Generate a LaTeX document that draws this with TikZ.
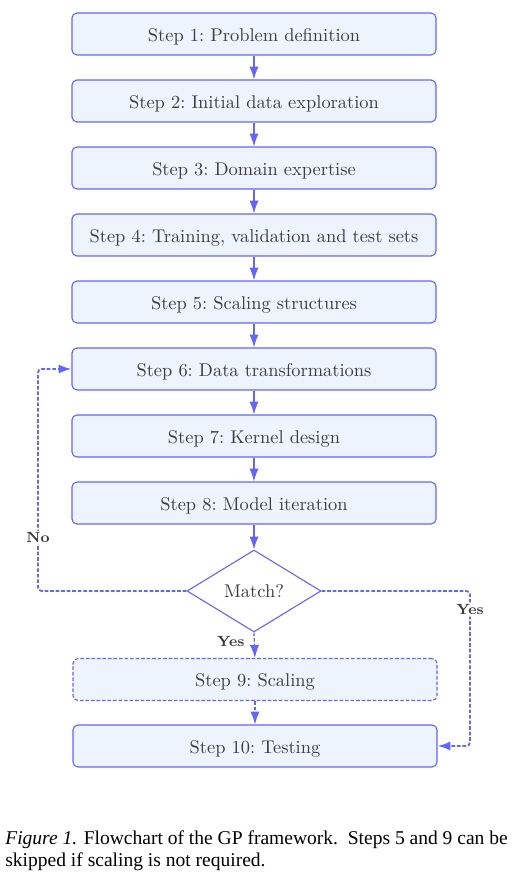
\documentclass[tikz,border=0pt]{standalone}
\usepackage{fontspec}
\newfontfamily\capfont{Liberation Serif}
\usetikzlibrary{shapes.geometric,arrows.meta}
\definecolor{flowblue}{RGB}{100,100,255}
\definecolor{boxfill}{RGB}{237,244,254}
\definecolor{steptext}{RGB}{60,60,60}
\tikzset{
  stepbox/.style={draw=flowblue,fill=boxfill,rounded corners=2.7pt,line width=0.6pt,
    minimum width=197.7pt,minimum height=22.8pt,text=steptext,inner sep=0pt,
    text height=8pt,text depth=0pt,font=\frenchspacing},
  decbox/.style={draw=flowblue,fill=white,diamond,line width=0.6pt,
    minimum width=72.8pt,minimum height=44.5pt,text=steptext,inner sep=0pt},
  flowarrow/.style={flowblue,line width=0.7pt,-{Latex[length=7pt,width=5pt]}},
  shortdash/.style={dash pattern=on 2pt off 1pt},
  looparrow/.style={flowarrow,shortdash,line width=1pt,rounded corners=2pt},
  answer/.style={font=\footnotesize\bfseries,text=steptext,fill=white,inner sep=1pt}
}
\begin{document}
\begin{tikzpicture}[x=0.543pt,y=-0.543pt]
  \useasboundingbox (0,0) rectangle (513,878);
  \foreach \i/\t in {1/Problem definition,2/Initial data exploration,3/Domain expertise,
      4/{Training, validation and test sets},5/Scaling structures,6/Data transformations,
      7/Kernel design,8/Model iteration}
    {\node[stepbox] (s\i) at (254,{34+67*(\i-1)}) {Step \i: \t};}
  \node[decbox] (dec) at (254,591) {Match?};
  \node[stepbox,shortdash] (s9) at (255,679.5) {Step 9: Scaling};
  \node[stepbox] (s10) at (255,746) {Step 10: Testing};
  \foreach \i [remember=\i as \prev (initially 1)] in {2,...,8}
    {\draw[flowarrow] (s\prev.south) -- (s\i.north);}
  \draw[flowarrow] (s8.south) -- (dec.north);
  \draw[flowarrow,shortdash] (dec.south) -- node[answer,left=4pt,pos=0.35,fill=none] {Yes} (s9.north);
  \draw[flowarrow,shortdash] (s9.south) -- (s10.north);
  \coordinate (noturn) at (38,591);
  \coordinate (yesturn) at (470,746);
  \draw[looparrow] (dec.west) -- (noturn) |- node[answer,pos=0.12] {No} (s6.west);
  \draw[looparrow] (dec.east) -| node[answer,pos=0.56] {Yes} (yesturn) -- (s10.east);
  \node[anchor=north west,inner sep=0pt,align=left,font=\capfont\fontsize{10.6pt}{12pt}\selectfont] (cap) at (5,830)
    {\textit{Figure 1.} Flowchart of the GP framework.\ \ Steps 5 and 9 can be\\skipped if scaling is not required.};
\end{tikzpicture}
\end{document}
